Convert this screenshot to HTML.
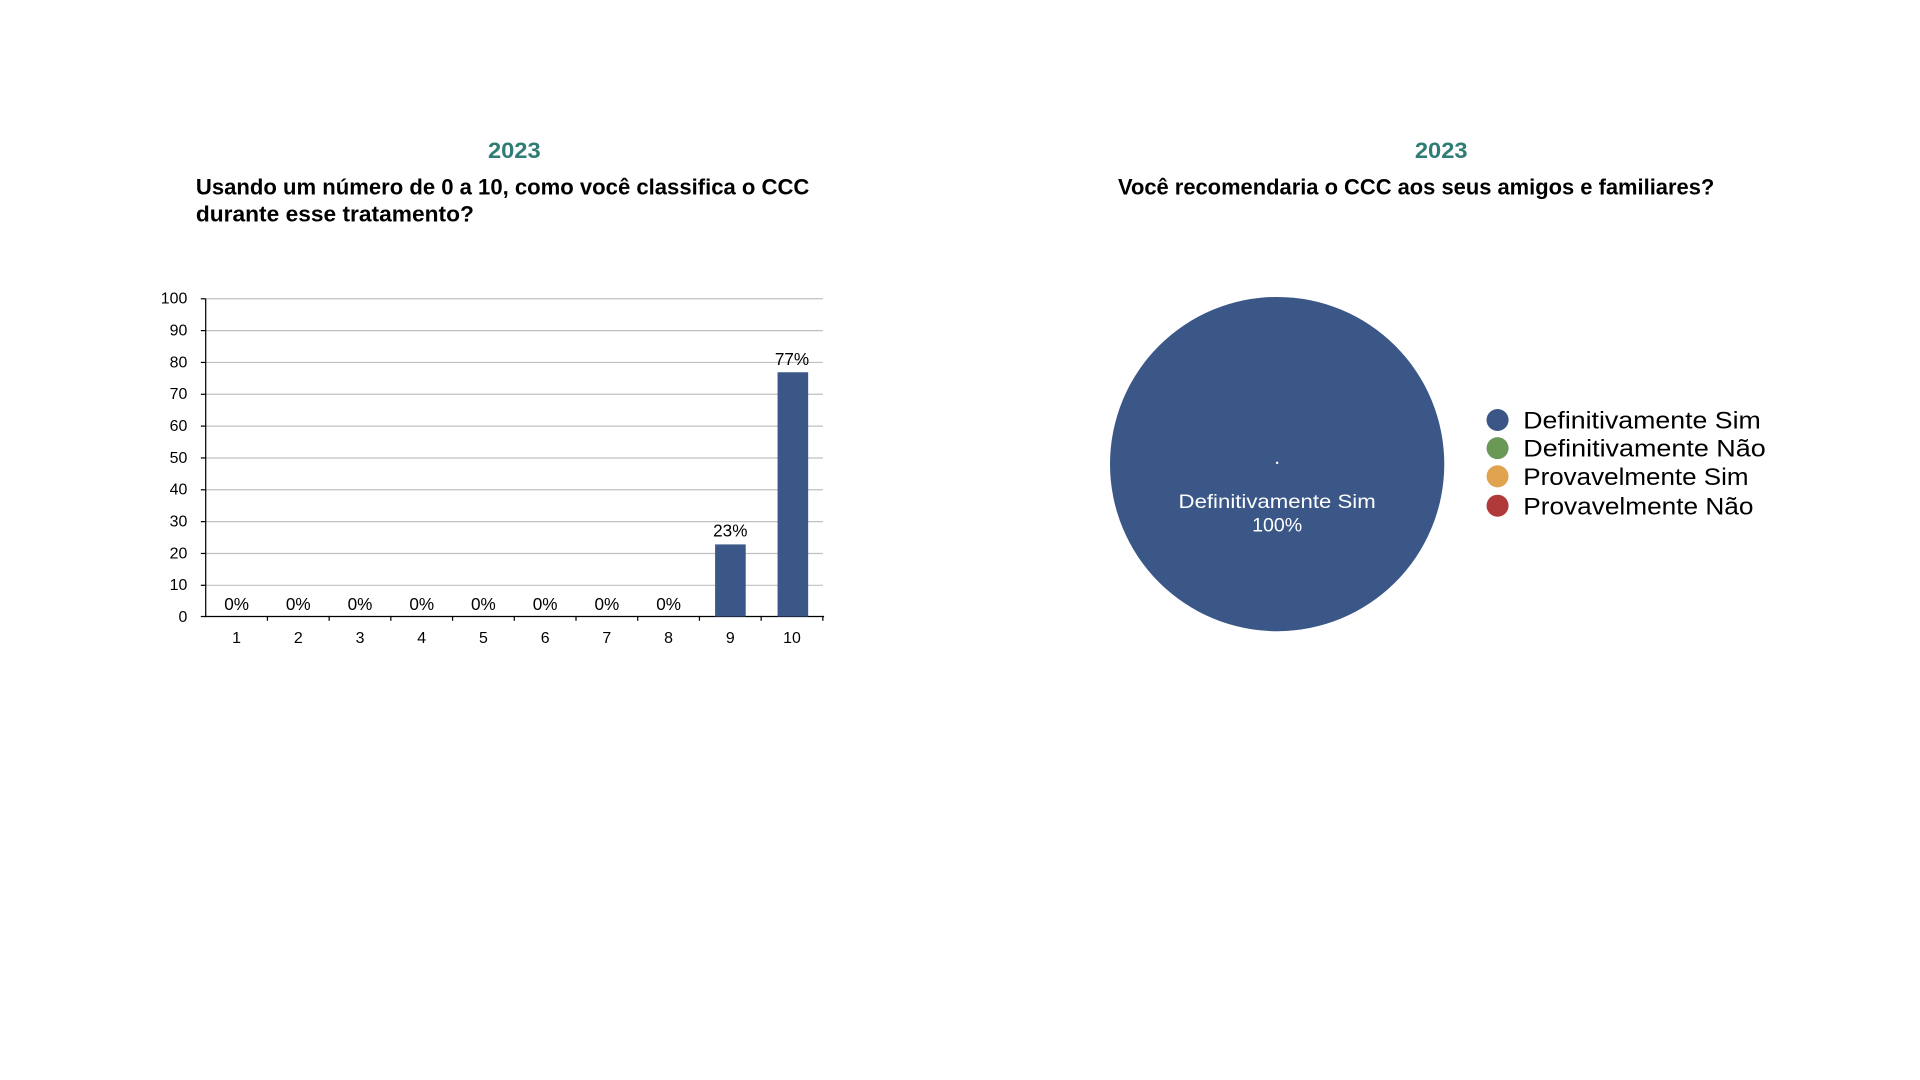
<!DOCTYPE html>
<html><head><meta charset="utf-8"><style>
html,body{margin:0;padding:0;background:#fff;}
svg{display:block;}
text{font-family:"Liberation Sans",sans-serif;}
</style></head><body>
<svg width="1920" height="1080" viewBox="0 0 1568 882" xmlns="http://www.w3.org/2000/svg">
<rect width="1568" height="882" fill="#fff"/>
<!-- Left chart -->
<text x="420" y="129" text-anchor="middle" font-size="18" font-weight="bold" fill="#2e7d74" textLength="43" lengthAdjust="spacingAndGlyphs">2023</text>
<text x="160" y="159" font-size="18" font-weight="bold" fill="#000" textLength="501" lengthAdjust="spacingAndGlyphs">Usando um número de 0 a 10, como você classifica o CCC</text>
<text x="160" y="181" font-size="18" font-weight="bold" fill="#000" textLength="227" lengthAdjust="spacingAndGlyphs">durante esse tratamento?</text>
<g stroke="#c0c0c0" stroke-width="1">
<line x1="168" y1="244" x2="672" y2="244"/><line x1="168" y1="270" x2="672" y2="270"/>
<line x1="168" y1="296" x2="672" y2="296"/><line x1="168" y1="322" x2="672" y2="322"/>
<line x1="168" y1="348" x2="672" y2="348"/><line x1="168" y1="374" x2="672" y2="374"/>
<line x1="168" y1="400" x2="672" y2="400"/><line x1="168" y1="426" x2="672" y2="426"/>
<line x1="168" y1="452" x2="672" y2="452"/><line x1="168" y1="478" x2="672" y2="478"/>
</g>
<g stroke="#000" stroke-width="1">
<line x1="168" y1="244" x2="168" y2="504"/><line x1="168" y1="503.5" x2="673" y2="503.5"/>
<line x1="164" y1="244" x2="168" y2="244"/><line x1="164" y1="270" x2="168" y2="270"/><line x1="164" y1="296" x2="168" y2="296"/><line x1="164" y1="322" x2="168" y2="322"/><line x1="164" y1="348" x2="168" y2="348"/><line x1="164" y1="374" x2="168" y2="374"/><line x1="164" y1="400" x2="168" y2="400"/><line x1="164" y1="426" x2="168" y2="426"/><line x1="164" y1="452" x2="168" y2="452"/><line x1="164" y1="478" x2="168" y2="478"/><line x1="164" y1="503.5" x2="168" y2="503.5"/>
<line x1="218.4" y1="503" x2="218.4" y2="507"/><line x1="268.8" y1="503" x2="268.8" y2="507"/><line x1="319.2" y1="503" x2="319.2" y2="507"/><line x1="369.6" y1="503" x2="369.6" y2="507"/><line x1="420" y1="503" x2="420" y2="507"/><line x1="470.4" y1="503" x2="470.4" y2="507"/><line x1="520.8" y1="503" x2="520.8" y2="507"/><line x1="571.2" y1="503" x2="571.2" y2="507"/><line x1="621.6" y1="503" x2="621.6" y2="507"/><line x1="672" y1="503" x2="672" y2="507"/>
</g>
<g font-size="13" fill="#000" text-anchor="end">
<text x="153" y="248">100</text><text x="153" y="274">90</text><text x="153" y="300">80</text><text x="153" y="326">70</text><text x="153" y="352">60</text><text x="153" y="378">50</text><text x="153" y="404">40</text><text x="153" y="430">30</text><text x="153" y="456">20</text><text x="153" y="482">10</text><text x="153" y="508">0</text>
</g>
<rect x="584" y="444.6" width="25" height="58.9" fill="#3a5788"/>
<rect x="635" y="304" width="25" height="199.5" fill="#3a5788"/>
<g font-size="13" fill="#000" text-anchor="middle">
<text x="193.2" y="525">1</text><text x="243.6" y="525">2</text><text x="294" y="525">3</text><text x="344.4" y="525">4</text><text x="394.8" y="525">5</text><text x="445.2" y="525">6</text><text x="495.6" y="525">7</text><text x="546" y="525">8</text><text x="596.4" y="525">9</text><text x="646.8" y="525">10</text>
</g>
<g font-size="14" fill="#000" text-anchor="middle">
<text x="193.2" y="498">0%</text><text x="243.6" y="498">0%</text><text x="294" y="498">0%</text><text x="344.4" y="498">0%</text><text x="394.8" y="498">0%</text><text x="445.2" y="498">0%</text><text x="495.6" y="498">0%</text><text x="546" y="498">0%</text><text x="596.4" y="438">23%</text><text x="646.8" y="298">77%</text>
</g>
<!-- Right chart -->
<text x="1177" y="129" text-anchor="middle" font-size="18" font-weight="bold" fill="#2e7d74" textLength="43" lengthAdjust="spacingAndGlyphs">2023</text>
<text x="913" y="159" font-size="18" font-weight="bold" fill="#000" textLength="487" lengthAdjust="spacingAndGlyphs">Você recomendaria o CCC aos seus amigos e familiares?</text>
<circle cx="1043" cy="379" r="136.5" fill="#3a5788"/>
<circle cx="1043" cy="378" r="1" fill="#fff"/>
<text x="1043" y="415" text-anchor="middle" font-size="16" fill="#fff" textLength="161" lengthAdjust="spacingAndGlyphs">Definitivamente Sim</text>
<text x="1043" y="434" text-anchor="middle" font-size="16" fill="#fff">100%</text>
<circle cx="1223" cy="343" r="9" fill="#3a5788"/>
<circle cx="1223" cy="366" r="9" fill="#6a9955"/>
<circle cx="1223" cy="389" r="9" fill="#e0a450"/>
<circle cx="1223" cy="413" r="9" fill="#b03a3a"/>
<g font-size="20" fill="#000">
<text x="1244" y="350" textLength="194" lengthAdjust="spacingAndGlyphs">Definitivamente Sim</text>
<text x="1244" y="373" textLength="198" lengthAdjust="spacingAndGlyphs">Definitivamente Não</text>
<text x="1244" y="396" textLength="184" lengthAdjust="spacingAndGlyphs">Provavelmente Sim</text>
<text x="1244" y="420" textLength="188" lengthAdjust="spacingAndGlyphs">Provavelmente Não</text>
</g>
</svg>
</body></html>
